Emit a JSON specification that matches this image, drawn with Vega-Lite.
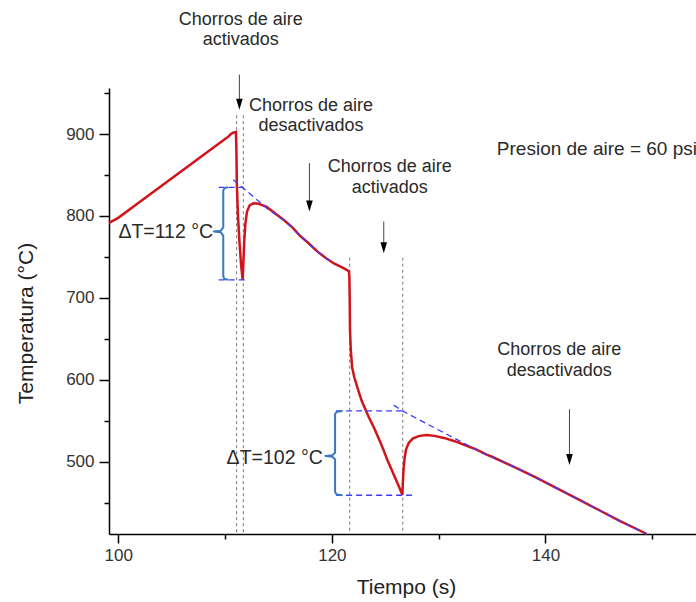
{
  "$schema": "https://vega.github.io/schema/vega-lite/v6.json",
  "width": 587,
  "height": 446,
  "autosize": {"type": "none"},
  "padding": {"left": 109, "top": 88, "right": 0, "bottom": 68},
  "config": {
    "view": {"stroke": null},
    "font": "Liberation Sans",
    "axis": {
      "grid": false,
      "domainColor": "#000",
      "domainWidth": 1.5,
      "tickColor": "#000",
      "tickWidth": 1.5,
      "labelFont": "Liberation Sans",
      "labelFontSize": 17,
      "labelColor": "#333",
      "labelFlush": false,
      "labelOverlap": false,
      "titleFont": "Liberation Sans",
      "titleFontSize": 21,
      "titleFontWeight": "normal",
      "titleColor": "#222"
    }
  },
  "datasets": {
    "curve": [
      {"t": 99.13, "T": 791.5}, {"t": 100, "T": 797.7}, {"t": 102, "T": 817}, {"t": 104, "T": 836.2},
      {"t": 106, "T": 855.4}, {"t": 108, "T": 874.7}, {"t": 110, "T": 893.9}, {"t": 110.3, "T": 896.8},
      {"t": 110.55, "T": 900}, {"t": 110.8, "T": 902}, {"t": 111.02, "T": 902.5},
      {"t": 111.06, "T": 880}, {"t": 111.1, "T": 840}, {"t": 111.2, "T": 802}, {"t": 111.35, "T": 768},
      {"t": 111.5, "T": 740}, {"t": 111.65, "T": 722},
      {"t": 111.72, "T": 745}, {"t": 111.8, "T": 770}, {"t": 111.9, "T": 790}, {"t": 112.05, "T": 805},
      {"t": 112.3, "T": 813}, {"t": 112.65, "T": 815.5}, {"t": 113.1, "T": 815}, {"t": 113.9, "T": 811},
      {"t": 114.7, "T": 803}, {"t": 115.5, "T": 795}, {"t": 116.3, "T": 786}, {"t": 117.0, "T": 776},
      {"t": 117.8, "T": 767}, {"t": 118.6, "T": 757}, {"t": 119.4, "T": 749}, {"t": 120.2, "T": 742},
      {"t": 121.0, "T": 737}, {"t": 121.6, "T": 732.5},
      {"t": 121.64, "T": 725}, {"t": 121.67, "T": 700}, {"t": 121.7, "T": 660}, {"t": 121.78, "T": 635},
      {"t": 121.9, "T": 615}, {"t": 122.1, "T": 603}, {"t": 122.4, "T": 590}, {"t": 122.8, "T": 574},
      {"t": 123.4, "T": 556}, {"t": 124.0, "T": 540}, {"t": 124.6, "T": 522}, {"t": 125.2, "T": 502},
      {"t": 125.8, "T": 484}, {"t": 126.3, "T": 469}, {"t": 126.6, "T": 459.5},
      {"t": 126.65, "T": 475}, {"t": 126.72, "T": 492}, {"t": 126.82, "T": 505}, {"t": 126.95, "T": 515},
      {"t": 127.2, "T": 523}, {"t": 127.6, "T": 528.5}, {"t": 128.2, "T": 531.5}, {"t": 128.9, "T": 532.5},
      {"t": 129.6, "T": 531.5}, {"t": 130.5, "T": 529}, {"t": 131.5, "T": 525}, {"t": 132.5, "T": 520},
      {"t": 133.5, "T": 515}, {"t": 134.5, "T": 508.5}, {"t": 135, "T": 506}, {"t": 137, "T": 494},
      {"t": 139, "T": 481.5}, {"t": 141, "T": 468}, {"t": 143, "T": 454.5}, {"t": 145, "T": 441},
      {"t": 147, "T": 427.5}, {"t": 149.5, "T": 411.7}
    ],
    "guides": [
      {"g": "a", "t": 110.77, "T": 844.3}, {"g": "a", "t": 111.7, "T": 834}, {"g": "a", "t": 112.6, "T": 824},
      {"g": "a", "t": 113.4, "T": 815}, {"g": "a", "t": 114.2, "T": 806.5}, {"g": "a", "t": 115.5, "T": 795},
      {"g": "a", "t": 116.3, "T": 786}, {"g": "a", "t": 117.0, "T": 776}, {"g": "a", "t": 117.8, "T": 767},
      {"g": "a", "t": 118.6, "T": 757}, {"g": "a", "t": 119.4, "T": 749}, {"g": "a", "t": 120.1, "T": 742.5},
      {"g": "b", "t": 109.4, "T": 835}, {"g": "b", "t": 111.75, "T": 835},
      {"g": "c", "t": 109.4, "T": 722}, {"g": "c", "t": 112.0, "T": 722},
      {"g": "d", "t": 125.8, "T": 569}, {"g": "d", "t": 126.6, "T": 562}, {"g": "d", "t": 128, "T": 552.4},
      {"g": "d", "t": 130, "T": 538.7}, {"g": "d", "t": 132, "T": 525}, {"g": "d", "t": 134.2, "T": 510},
      {"g": "d", "t": 135, "T": 506}, {"g": "d", "t": 137, "T": 494}, {"g": "d", "t": 139, "T": 481.5},
      {"g": "d", "t": 141, "T": 468}, {"g": "d", "t": 143, "T": 454.5}, {"g": "d", "t": 145, "T": 441},
      {"g": "d", "t": 147, "T": 427.5}, {"g": "d", "t": 149.5, "T": 411.7},
      {"g": "e", "t": 120.4, "T": 562}, {"g": "e", "t": 126.6, "T": 562},
      {"g": "f", "t": 120.4, "T": 459}, {"g": "f", "t": 127.5, "T": 459}
    ],
    "brackets": [
      {"b": 1, "k": 0, "t": 110.3, "T": 835}, {"b": 1, "k": 1, "t": 109.95, "T": 834},
      {"b": 1, "k": 2, "t": 109.83, "T": 831}, {"b": 1, "k": 3, "t": 109.83, "T": 786},
      {"b": 1, "k": 4, "t": 109.6, "T": 782}, {"b": 1, "k": 5, "t": 108.95, "T": 781},
      {"b": 1, "k": 6, "t": 109.6, "T": 780}, {"b": 1, "k": 7, "t": 109.83, "T": 776},
      {"b": 1, "k": 8, "t": 109.83, "T": 726}, {"b": 1, "k": 9, "t": 109.95, "T": 723},
      {"b": 1, "k": 10, "t": 110.3, "T": 722},
      {"b": 2, "k": 0, "t": 121.0, "T": 562}, {"b": 2, "k": 1, "t": 120.45, "T": 561},
      {"b": 2, "k": 2, "t": 120.3, "T": 558}, {"b": 2, "k": 3, "t": 120.3, "T": 511},
      {"b": 2, "k": 4, "t": 120.05, "T": 508}, {"b": 2, "k": 5, "t": 119.4, "T": 507},
      {"b": 2, "k": 6, "t": 120.05, "T": 506}, {"b": 2, "k": 7, "t": 120.3, "T": 503},
      {"b": 2, "k": 8, "t": 120.3, "T": 463}, {"b": 2, "k": 9, "t": 120.45, "T": 459.8},
      {"b": 2, "k": 10, "t": 121.0, "T": 459}
    ],
    "dotted": [
      {"t": 111.08, "T": 923, "T2": 411.7}, {"t": 111.71, "T": 923, "T2": 411.7},
      {"t": 121.67, "T": 749, "T2": 411.7}, {"t": 126.64, "T": 749, "T2": 411.7}
    ],
    "shafts": [
      {"t": 111.34, "T": 972.5, "T2": 940}, {"t": 117.9, "T": 864.6, "T2": 810},
      {"t": 124.86, "T": 793.2, "T2": 759}, {"t": 142.25, "T": 564, "T2": 500}
    ],
    "heads": [
      {"t": 111.34, "T": 936.3}, {"t": 117.9, "T": 812.2}, {"t": 124.86, "T": 761.3}, {"t": 142.25, "T": 502.7}
    ],
    "notes": [
      {"t": 111.47, "T": 1039.6, "label": "Chorros de aire"}, {"t": 111.47, "T": 1014.6, "label": "activados"},
      {"t": 118.05, "T": 934.6, "label": "Chorros de aire"}, {"t": 118.05, "T": 909.3, "label": "desactivados"},
      {"t": 125.42, "T": 860, "label": "Chorros de aire"}, {"t": 125.42, "T": 834, "label": "activados"},
      {"t": 141.3, "T": 636.3, "label": "Chorros de aire"}, {"t": 141.3, "T": 611, "label": "desactivados"}
    ],
    "notesLeft": [
      {"t": 135.45, "T": 882, "label": "Presion de aire = 60 psi"}
    ],
    "deltas": [
      {"t": 108.88, "T": 781, "label": "ΔT=112 °C"}, {"t": 119.15, "T": 504, "label": "ΔT=102 °C"}
    ]
  },
  "encoding": {
    "x": {
      "field": "t",
      "type": "quantitative",
      "scale": {"domain": [99.13, 154.1], "nice": false, "zero": false},
      "axis": {
        "title": "Tiempo (s)",
        "values": [100, 110, 120, 130, 140, 150],
        "labelExpr": "datum.value % 20 === 0 ? datum.label : ''",
        "tickSize": {"condition": {"test": "datum.value % 20 === 0", "value": 9}, "value": 5},
        "labelPadding": 4,
        "titleX": 297,
        "titleY": 53,
        "titleBaseline": "middle",
        "titleAlign": "center"
      }
    },
    "y": {
      "field": "T",
      "type": "quantitative",
      "scale": {"domain": [411.7, 956.2], "nice": false, "zero": false},
      "axis": {
        "title": "Temperatura (°C)",
        "values": [450, 500, 550, 600, 650, 700, 750, 800, 850, 900, 950],
        "labelExpr": "datum.value % 100 === 0 ? datum.label : ''",
        "tickSize": {"condition": {"test": "datum.value % 100 === 0", "value": 10}, "value": 5},
        "labelPadding": 5,
        "titleX": -83,
        "titleY": 235,
        "titleAngle": 270,
        "titleBaseline": "middle",
        "titleAlign": "center"
      }
    }
  },
  "layer": [
    {
      "data": {"name": "dotted"},
      "mark": {"type": "rule", "color": "#777", "strokeDash": [3, 3], "strokeWidth": 1},
      "encoding": {"y2": {"field": "T2"}}
    },
    {
      "data": {"name": "curve"},
      "mark": {"type": "line", "color": "#d0141a", "strokeWidth": 2.5}
    },
    {
      "data": {"name": "guides"},
      "mark": {"type": "line", "color": "#3b3bff", "strokeDash": [6, 4], "strokeWidth": 1.3},
      "encoding": {"detail": {"field": "g"}}
    },
    {
      "data": {"name": "brackets"},
      "mark": {"type": "line", "color": "#3a78c2", "strokeWidth": 2, "strokeJoin": "round"},
      "encoding": {"detail": {"field": "b"}, "order": {"field": "k"}}
    },
    {
      "data": {"name": "shafts"},
      "mark": {"type": "rule", "color": "#444", "strokeWidth": 1},
      "encoding": {"y2": {"field": "T2"}}
    },
    {
      "data": {"name": "heads"},
      "mark": {"type": "point", "shape": "M-0.6,-1L0.6,-1L0,1Z", "filled": true, "color": "#000", "opacity": 1, "size": 121}
    },
    {
      "data": {"name": "notes"},
      "mark": {"type": "text", "align": "center", "baseline": "middle", "fontSize": 18, "color": "#2a2a2a"},
      "encoding": {"text": {"field": "label"}}
    },
    {
      "data": {"name": "notesLeft"},
      "mark": {"type": "text", "align": "left", "baseline": "middle", "fontSize": 19, "color": "#2a2a2a"},
      "encoding": {"text": {"field": "label"}}
    },
    {
      "data": {"name": "deltas"},
      "mark": {"type": "text", "align": "right", "baseline": "middle", "fontSize": 19.5, "color": "#2a2a2a"},
      "encoding": {"text": {"field": "label"}}
    }
  ]
}
